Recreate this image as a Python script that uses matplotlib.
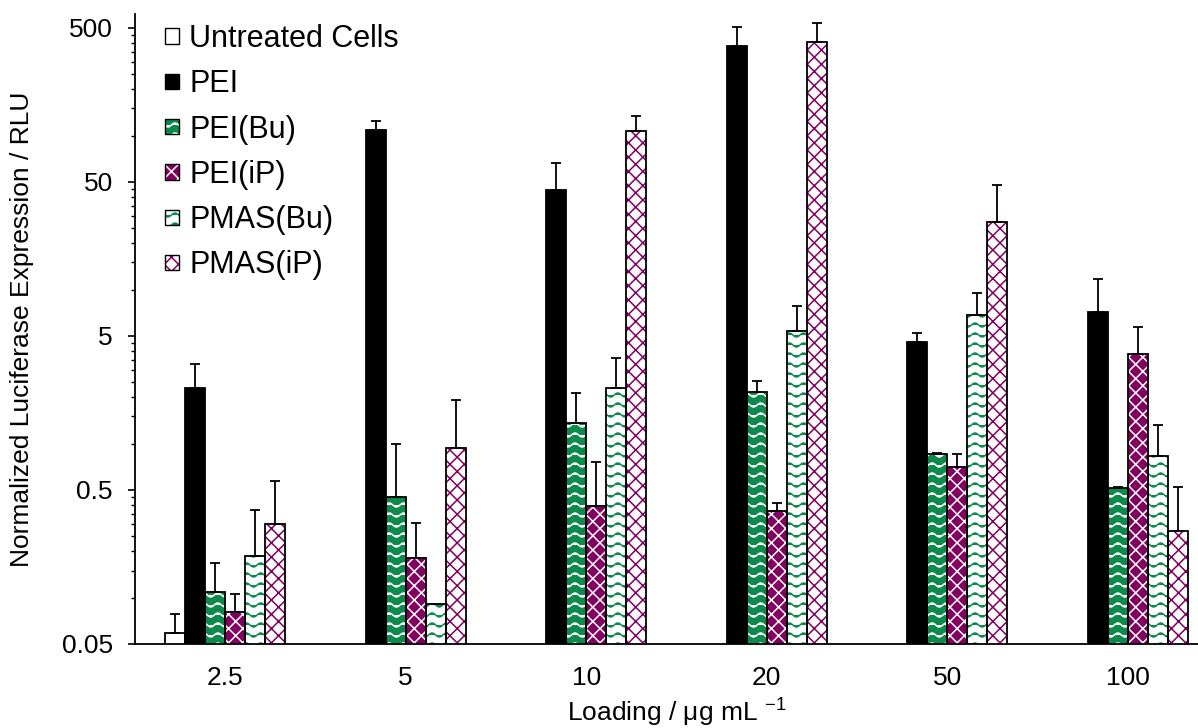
import warnings
import numpy as np
import matplotlib
matplotlib.use("Agg")
import matplotlib.pyplot as plt
from matplotlib import hatch as mhatch
from matplotlib.path import Path
from matplotlib.patches import Patch

warnings.filterwarnings("ignore", category=matplotlib.MatplotlibDeprecationWarning)

loadings = ["2.5", "5", "10", "20", "50", "100"]
series = ["Untreated Cells", "PEI", "PEI(Bu)", "PEI(iP)", "PMAS(Bu)", "PMAS(iP)"]

untreated = [0.059, np.nan, np.nan, np.nan, np.nan, np.nan]
untreated_err = [0.019, 0, 0, 0, 0, 0]
pei = [2.29, 108, 44.4, 384, 4.55, 7.19]
pei_err = [1.0, 15.6, 21.7, 121, 0.66, 4.48]
pei_bu = [0.108, 0.452, 1.37, 2.15, 0.857, 0.513]
pei_bu_err = [0.059, 0.54, 0.77, 0.40, 0.01, 0.012]
pei_ip = [0.081, 0.182, 0.394, 0.367, 0.702, 3.80]
pei_ip_err = [0.024, 0.122, 0.37, 0.047, 0.15, 1.89]
pmas_bu = [0.186, 0.091, 2.29, 5.39, 6.81, 0.832]
pmas_bu_err = [0.185, 0.0, 1.33, 2.48, 2.74, 0.49]
pmas_ip = [0.299, 0.933, 107, 404, 27.6, 0.272]
pmas_ip_err = [0.27, 0.99, 28, 137, 20, 0.25]

y_ticks = [0.05, 0.5, 5, 50, 500]
y_ticklabels = ["0.05", "0.5", "5", "50", "500"]

GREEN = "#0c8a4c"
PURPLE = "#820060"


class WaveHatch(mhatch.HatchPatternBase):
    '''
    Wavy rows (Excel "wave" pattern), selected with "~".
    '''
    rows = 10
    pts = 113

    def __init__(self, hatch, density):
        self.num_rows = hatch.count("~") * self.rows
        self.num_vertices = self.num_rows * self.pts

    def set_vertices_and_codes(self, vertices, codes):
        x = np.linspace(0, 1, self.pts)
        for i in range(self.num_rows):
            sl = slice(i * self.pts, (i + 1) * self.pts)
            vertices[sl, 0] = x
            vertices[sl, 1] = (i + 0.5) / self.num_rows + 0.02 * np.sin(2 * np.pi * 7 * x)
            codes[sl] = Path.LINETO
            codes[i * self.pts] = Path.MOVETO


class LatticeHatch(mhatch.HatchPatternBase):
    '''
    Diamond lattice, selected with "#".
    '''
    n = 7

    def __init__(self, hatch, density):
        self.num_lines = hatch.count("#") * self.n
        self.num_vertices = (2 * self.num_lines + 1) * 4 if self.num_lines else 0

    def set_vertices_and_codes(self, vertices, codes):
        c = np.arange(-self.num_lines, self.num_lines + 1) / self.num_lines
        # rising lines
        vertices[0::4, 0] = -0.5
        vertices[0::4, 1] = -0.5 + c
        vertices[1::4, 0] = 1.5
        vertices[1::4, 1] = 1.5 + c
        # falling lines
        vertices[2::4, 0] = -0.5
        vertices[2::4, 1] = 1.5 + c
        vertices[3::4, 0] = 1.5
        vertices[3::4, 1] = -0.5 + c
        codes[0::2] = Path.MOVETO
        codes[1::2] = Path.LINETO


mhatch._hatch_types.append(WaveHatch)
mhatch._hatch_types.append(LatticeHatch)

plt.rcParams["font.family"] = ["Liberation Sans", "DejaVu Sans"]
plt.rcParams["font.size"] = 19
plt.rcParams["mathtext.default"] = "regular"
plt.rcParams["hatch.linewidth"] = 1.1

# (values, errors, face colour, hatch colour, hatch)
styles = [
    (untreated, untreated_err, "white", "white", None),
    (pei, pei_err, "black", "black", None),
    (pei_bu, pei_bu_err, GREEN, "white", "~"),
    (pei_ip, pei_ip_err, PURPLE, "white", "#"),
    (pmas_bu, pmas_bu_err, "white", GREEN, "~"),
    (pmas_ip, pmas_ip_err, "white", PURPLE, "#"),
]

fig = plt.figure(figsize=(11.98, 7.28), dpi=100)
ax = fig.add_axes([0.1127, 0.1154, 0.904, 0.8654])

x = np.arange(len(loadings))
w = 0.111
handles = []
for i, (vals, errs, fc, hc, h) in enumerate(styles):
    pos = x + (i - 2.5) * w
    vals = np.array(vals, dtype=float)
    yerr = [np.zeros(len(vals)), np.array(errs, dtype=float)]
    ax.bar(pos, vals, w, color=fc, edgecolor=hc, linewidth=0, hatch=h, zorder=2)
    ax.bar(pos, vals, w, fill=False, edgecolor="black", linewidth=1.3, zorder=3)
    ax.errorbar(pos, vals, yerr=yerr, fmt="none", ecolor="black",
                elinewidth=1.3, capsize=3.6, capthick=1.3, zorder=4)
    handles.append((Patch(facecolor=fc, edgecolor=hc, linewidth=0, hatch=h),
                    Patch(facecolor="none", edgecolor="black", linewidth=1.0)))

ax.set_yscale("log")
ax.set_xlim(-0.5, len(loadings) - 0.5)
ax.set_yticks(y_ticks, y_ticklabels)
ax.set_yticks([k * t for t in y_ticks for k in range(2, 10)], minor=True)
ax.yaxis.set_minor_formatter(plt.NullFormatter())
ax.set_ylim(0.05, 616)
ax.set_xticks(x, loadings)

ax.tick_params(axis="x", length=0, pad=16)
ax.tick_params(axis="y", which="major", length=5, width=1.2, pad=11)
ax.tick_params(axis="y", which="minor", length=3, width=1.0)
for side in ["top", "right"]:
    ax.spines[side].set_visible(False)
for side in ["left", "bottom"]:
    ax.spines[side].set_linewidth(1.3)

ax.set_ylabel("Normalized Luciferase Expression / RLU", labelpad=20)
ax.set_xlabel(r"Loading / μg mL $^{-1}$", labelpad=5)

ax.legend(handles, series, loc="upper left", bbox_to_anchor=(0.028, 0.984),
          frameon=False, borderaxespad=0, borderpad=0, fontsize=22,
          handlelength=0.45, handleheight=0.4, handletextpad=0.33,
          labelspacing=0.5)

fig.savefig("out.png", dpi=100)
